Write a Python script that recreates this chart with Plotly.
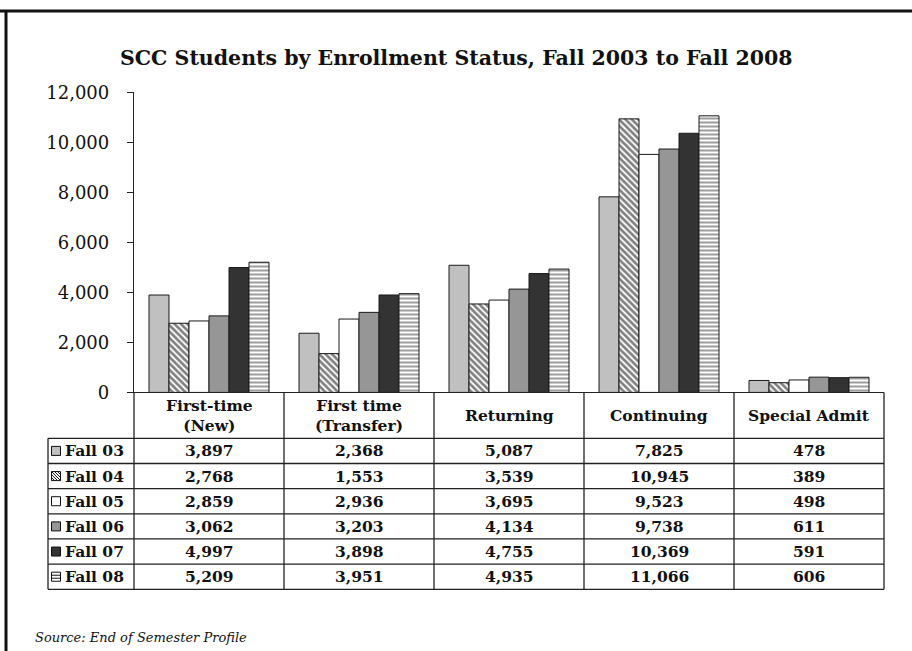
import plotly.graph_objects as go

categories = ["First-time (New)", "First time (Transfer)", "Returning", "Continuing", "Special Admit"]
header_labels = ["First-time<br>(New)", "First time<br>(Transfer)", "Returning", "Continuing", "Special Admit"]
series_names = ["Fall 03", "Fall 04", "Fall 05", "Fall 06", "Fall 07", "Fall 08"]
fall03 = [3897, 2368, 5087, 7825, 478]
fall04 = [2768, 1553, 3539, 10945, 389]
fall05 = [2859, 2936, 3695, 9523, 498]
fall06 = [3062, 3203, 4134, 9738, 611]
fall07 = [4997, 3898, 4755, 10369, 591]
fall08 = [5209, 3951, 4935, 11066, 606]
series_values = [fall03, fall04, fall05, fall06, fall07, fall08]
y_ticks = [0, 2000, 4000, 6000, 8000, 10000, 12000]

title = "SCC Students by Enrollment Status, Fall 2003 to Fall 2008"
source = "Source: End of Semester Profile"

W, H = 912, 663
YOFF, YSC = 11.0, 0.966
FONT = "Georgia, 'DejaVu Serif', serif"

fills = ["#c0c0c0", "white", "white", "#969696", "#333333", "white"]
patterns = [None, "\\", None, None, None, "-"]

def px(x):
    return x / W

def py(y):
    return 1 - ((y - YOFF) / YSC) / H

# layout geometry (pixels, in screen coordinates)
plot_l, plot_r = 134, 884
plot_top, plot_bot = 92.3, 391.5
lab_l = 48
head_bot = 437.3
row_h = 25.1
n_rows = len(series_names)
tab_bot = head_bot + n_rows * row_h

fig = go.Figure()
for i, (name, vals) in enumerate(zip(series_names, series_values)):
    marker = dict(color=fills[i], line=dict(color="#1a1a1a", width=1))
    if patterns[i] == "\\":
        marker["pattern"] = dict(shape="\\", fgcolor="black", bgcolor="white", size=4.5, solidity=0.6)
    elif patterns[i] == "-":
        marker["pattern"] = dict(shape="-", fgcolor="#222", bgcolor="white", size=4, solidity=0.45)
    fig.add_trace(go.Bar(x=categories, y=vals, name=name, marker=marker))

shapes = []
annotations = []
line = dict(color="#222", width=1.3)

# frame border (left + top)
shapes.append(dict(type="line", xref="paper", yref="paper", x0=px(6), x1=px(6), y0=0, y1=1,
                   line=dict(color="#111", width=3)))
shapes.append(dict(type="line", xref="paper", yref="paper", x0=0, x1=1, y0=1, y1=1,
                   line=dict(color="#111", width=3)))

# table vertical lines
col_edges = [plot_l + k * (plot_r - plot_l) / len(categories) for k in range(len(categories) + 1)]
for xe in col_edges:
    shapes.append(dict(type="line", xref="paper", yref="paper", x0=px(xe), x1=px(xe),
                       y0=py(plot_bot), y1=py(tab_bot), line=line))
shapes.append(dict(type="line", xref="paper", yref="paper", x0=px(lab_l), x1=px(lab_l),
                   y0=py(head_bot), y1=py(tab_bot), line=line))
# horizontal lines
for r in range(n_rows + 1):
    yy = head_bot + r * row_h
    shapes.append(dict(type="line", xref="paper", yref="paper", x0=px(lab_l), x1=px(plot_r),
                       y0=py(yy), y1=py(yy), line=line))

tfont = dict(family=FONT, size=15.5, color="#111")
# headers
for cat, lab in zip(categories, header_labels):
    annotations.append(dict(x=cat, xref="x", y=py((plot_bot + head_bot) / 2), yref="paper",
                            text="<b>" + lab + "</b>", showarrow=False, font=tfont,
                            xanchor="center", yanchor="middle"))
# rows
for r, (name, vals) in enumerate(zip(series_names, series_values)):
    yc = head_bot + (r + 0.5) * row_h
    annotations.append(dict(x=px(63), xref="paper", y=py(yc), yref="paper",
                            text="<b>" + name + "</b>", showarrow=False, font=tfont,
                            xanchor="left", yanchor="middle"))
    for cat, v in zip(categories, vals):
        annotations.append(dict(x=cat, xref="x", y=py(yc), yref="paper",
                                text="<b>" + f"{v:,}" + "</b>", showarrow=False, font=tfont,
                                xanchor="center", yanchor="middle"))
    # legend key
    kx0, ky0, ks = 51.5, yc - 4.5, 9
    shapes.append(dict(type="rect", xref="paper", yref="paper", x0=px(kx0), x1=px(kx0 + ks),
                       y0=py(ky0), y1=py(ky0 + ks), fillcolor=fills[r],
                       line=dict(color="#111", width=1)))
    if patterns[r] == "\\":
        for d in (-6, -3, 0, 3, 6):
            shapes.append(dict(type="line", xref="paper", yref="paper",
                               x0=px(kx0 + max(0, d)), y0=py(ky0 + max(0, -d)),
                               x1=px(kx0 + ks - max(0, -d)), y1=py(ky0 + ks - max(0, d)),
                               line=dict(color="#111", width=1)))
    elif patterns[r] == "-":
        for d in (3, 6):
            shapes.append(dict(type="line", xref="paper", yref="paper",
                               x0=px(kx0), x1=px(kx0 + ks), y0=py(ky0 + d), y1=py(ky0 + d),
                               line=dict(color="#111", width=1)))

annotations.append(dict(x=px(456), xref="paper", y=py(58), yref="paper",
                        text="<b>" + title + "</b>", showarrow=False,
                        font=dict(family=FONT, size=20.5, color="#111"),
                        xanchor="center", yanchor="middle"))
annotations.append(dict(x=px(33), xref="paper", y=py(636), yref="paper",
                        text="<i>" + source + "</i>", showarrow=False,
                        font=dict(family=FONT, size=13, color="#111"),
                        xanchor="left", yanchor="middle"))

fig.update_layout(
    width=W, height=H, margin=dict(l=0, r=0, t=0, b=0),
    paper_bgcolor="white", plot_bgcolor="white",
    barmode="group", bargap=0.2, bargroupgap=0,
    showlegend=False,
    shapes=shapes, annotations=annotations,
    xaxis=dict(domain=[px(plot_l), px(plot_r)], range=[-0.5, 4.5], showticklabels=False,
               showline=True, linecolor="#222", linewidth=1.3, ticks="", showgrid=False,
               zeroline=False),
    yaxis=dict(domain=[py(plot_bot), py(plot_top)], range=[0, 12000], tickvals=y_ticks,
               tickformat=",", ticks="outside", ticklen=6, tickcolor="#222",
               showline=True, linecolor="#222", linewidth=1.3, showgrid=False, zeroline=False,
               tickfont=dict(family=FONT, size=18, color="#111"), ticklabelstandoff=14),
)

fig.write_html("out.html")
